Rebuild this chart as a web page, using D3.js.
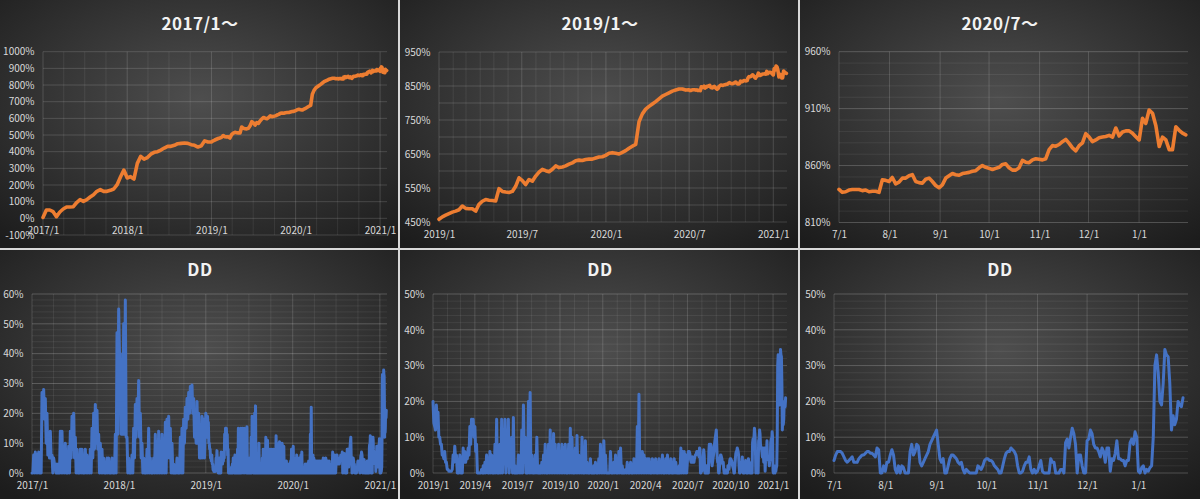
<!DOCTYPE html>
<html><head><meta charset="utf-8">
<script src="https://cdn.jsdelivr.net/npm/d3@7"></script>
<style>
html,body{margin:0;padding:0;background:#1a1a1a;}
svg{display:block;}
text{font-family:"Noto Sans CJK JP","Noto Sans",sans-serif;}
</style></head><body>
<svg id="c" width="1200" height="499"></svg>
<script>
// ---------------- DATA ----------------
const endDate = "2021-01-31";
const titles = ["2017/1～", "2019/1～", "2020/7～", "DD", "DD", "DD"];

// equity (%), segments: start date, step in days, values
const eqStart2017 = "2017-01-01", eqStep2017 = 14.6;
const equity2017 = [5,50,50,40,10,38,56,68,68,70,95,112,102,112,128,142,162,172,162,162,168,176,202,248,290,242,250,236,330,372,355,365,385,396,400,410,422,432,432,438,448,450,452,450,442,438,428,435,465,458];
const eqStart2019 = "2019-01-01", eqStep2019 = 7.29;
const equity2019 = [458,465,470,474.5,479,482,486,497,490,489,489,482,502,511,516,514,513,512,548,540,538,537,540,555,580,572,560,575,570,585,597,605,601,598,605,615,610,612,615,620,624,630,632,631,634,635,635,638,641,642,646,652,654,652,650,655,660,667,673,678,745,768,782,790,797,804,812,820,825,830,835,838,841,841,838];
const eqStart2020 = "2020-07-01", eqStep2020 = 2.045;
const equity2020 = [839,836.5,837,838.5,839,839,839,838,838.5,837,
837.5,837.5,836.5,847.5,847,846,849.5,844,845.5,849,
849,851,852,846,845,844.5,848,849,846,842.5,
840.5,843,849,851,853,852,851.5,853,853.5,854,
855,855.5,858,860,858.5,857.5,856.5,857.5,858.5,861,
861.5,858,856,856,858,864.5,863,862.5,865,866,
865.5,865,866,874,877.5,877,878.5,881,883,879.5,
875.5,873,877.5,880,888,885,881,882.5,884.5,885,
885.5,886.5,885,893,886,889.5,890.5,890.5,888.4,885.4,
882.5,901.5,897,908.8,906,895,876.7,885,882.5,874,
874,894,891,888.5,887];

// drawdown (%): sampled peaks and the troughs read between them
const ddStart2017 = "2017-01-01", ddStep2017 = 7;
const dd2017 = [0,6,7,6,7,0,27,28,25,20,
12,14,6,5,3,3,3,14,14,8,
10,0,9,14,19,20,12,8,0,8,
8,0,8,6,5,8,15,20,23,21,
13,10,8,5,0,5,5,0,5,0,
13,47,55,40,13,50,58,12,5,0,
6,15,23,25,31,20,10,5,0,8,
15,5,0,5,13,10,14,5,13,10,
17,18,19,15,10,3,0,5,0,12,
15,18,22,25,27,29,29.5,25,15,24,
20,12,19,18,15];
const dd2017Low = [0,0,0,0,0,0,20,18,10,6,
5,5,0,3,0,0,0,0,0,0,
0,0,0,5,8,5,0,0,0,0,
0,0,0,0,0,0,5,8,10,8,
0,0,0,0,0,0,0,0,0,0,
0,13,40,13,13,13,12,0,0,0,
0,5,12,15,12,5,0,0,0,0,
0,0,0,0,0,0,0,0,0,0,
0,5,5,0,0,0,0,0,0,0,
0,10,15,18,20,22,20,12,10,10,
5,5,5,5,5];
const ddStart2019 = "2019-01-01", ddStep2019 = 3.6;
const dd2019 = [20,13,19,17,10,8,5,6,3,1,
0.5,0.5,5,7.5,5,0,5,0,7,6,
5,7,13,15,15,13,8,0,0,1,
2,3,5,0,6,5,2,8,15,0,
8,15,10,15,8,15,5,10,15.5,2,
0,5,3,12,19,10,0,20,22.5,5,
0,5,10,0,2,3,5,8,0,8,
12,5,11,8,3,8,5,8,7,8,
0,8,12.5,10,0,7,10.5,5,3,10,
0,9,3,2,4,0,2,3,0,4,
8,3,9,5,0,0,6,2,3,5,
0,6,7,2,0,1,3,2,3,0,
4,3,13,22,3,6,5,4,4,4,
0,4,3.5,4,0,4,3,5,0,4,
5,0,4,2,4,3,0,2,7,6,
6,5,6];
const dd2019Low = [14,12,15,10,8,5,4,3,1,0.5,
0.5,1,3,4,0,0,0,0,3,3,
4,5,8,12,10,6,0,0,0,0,
0,0,2,0,0,0,0,0,0,0,
0,0,3,0,2,0,3,0,0,0,
0,0,0,0,5,0,0,0,0,0,
0,0,0,0,0,0,0,0,0,0,
0,0,0,0,0,0,0,0,0,0,
0,0,0,0,0,0,0,0,0,0,
0,0,0,0,0,0,0,0,0,0,
0,0,0,0,0,0,0,0,0,0,
0,0,0,0,0,0,0,0,0,0,
0,0,0,0,0,0,0,0,0,0,
0,0,0,0,0,0,0,0,0,0,
0,0,0,0,0,0,0,0,0,0,
0,0,0];
const ddStart2020 = "2020-07-01", ddStep2020 = 1;
const dd2020 = [3.5,5,6,6,6,5.5,4.5,3.5,3,3.5,
4,4.5,3,3,3,4,4.5,5,5,5.5,
6,6,5.5,5.5,5,4.5,7,6.5,0,0,
2,0.5,3,3,5,6.5,5,1,0,2,
0,2,1.5,0,0,0,6,8,5,6,
8,7.5,3,2,3,4,5,6,8,9,
10,11,12,8,4,3,4,0,0,2,
4,5,5,4.5,4,3,2.5,3,1,0,
1,0.5,0,0,0,0,0,2,1.5,1,
2,3.5,4,4,3.5,3.5,3,2,1.5,1,
0,0,2,4,5.5,6,6,7,6.5,6,
5,2,0,0,0.5,2,3,3,4.5,1,
0,1,0,0.5,2,3.5,0.5,0,0,0,
0,4,3,3,0,0,0,1,1,0,
8.5,9.5,7,10,12.5,11,8,0,5,5,
2,0,0,9,9.5,12,11,8,7,7,
6,4.5,7,6,3,7,7,0.5,4,3.5,
5.5,9,4,4,3.5,3.5,2,3.5,3.5,8.5,
9.5,8,11.5,10,0.5,0,1.5,2,0,1,
0.5,1.5,2,10,30,33,28,20,19,25,
34.5,33,32.5,25,12,16,13.5,15,20,19,
18.5,21];

// ---------------- BUILD ----------------
const parse = d3.timeParse("%Y-%m-%d");
function expand(start, step, vals, lows) {
  const t0 = parse(start);
  const out = [];
  vals.forEach((v, i) => {
    out.push({ d: d3.timeHour.offset(t0, Math.round(i * step * 24)), v });
    if (lows) out.push({ d: d3.timeHour.offset(t0, Math.round((i + 0.5) * step * 24)), v: lows[i] });
  });
  return out;
}
const cut2019 = parse("2019-01-01"), cut2020 = parse("2020-07-01");
const equity = [].concat(
  expand(eqStart2017, eqStep2017, equity2017).filter(p => p.d < cut2019),
  expand(eqStart2019, eqStep2019, equity2019).filter(p => p.d < cut2020),
  expand(eqStart2020, eqStep2020, equity2020));
const dd = [].concat(
  expand(ddStart2017, ddStep2017, dd2017, dd2017Low).filter(p => p.d < cut2019),
  expand(ddStart2019, ddStep2019, dd2019, dd2019Low).filter(p => p.d < cut2020),
  expand(ddStart2020, ddStep2020, dd2020));

const svg = d3.select("#c");
const defs = svg.append("defs");
const rg = defs.append("radialGradient").attr("id", "bg").attr("cx", "50%").attr("cy", "40%").attr("r", "75%");
rg.append("stop").attr("offset", "0%").attr("stop-color", "#4e4e4e");
rg.append("stop").attr("offset", "100%").attr("stop-color", "#1c1c1c");

const ymFmt = d => d.getFullYear() + "/" + (d.getMonth() + 1);
const mdFmt = d => (d.getMonth() + 1) + "/1";
const end = parse(endDate);

const panels = [
  { px: 0, py: 0, title: titles[0], series: equity, color: "#ED7D31", sw: 3.6, start: "2017-01-01",
    xr: [43, 387], yd: [-100, 1000], yr: [235, 51.7], axisAt: 0,
    yMinor: null, yMajor: d3.range(-100, 1001, 100), yLabels: d3.range(-100, 1001, 100),
    xGrid: d3.timeMonth.every(3), xMajor: d3.timeYear, xLabels: d3.timeYear, fmt: ymFmt, ty: 30 },
  { px: 400, py: 0, title: titles[1], series: equity, color: "#ED7D31", sw: 3.6, start: "2019-01-01",
    xr: [439, 787], yd: [450, 950], yr: [222, 52], axisAt: 450,
    yMinor: null, yMajor: d3.range(450, 951, 50), yLabels: d3.range(450, 951, 100),
    xGrid: d3.timeMonth, xMajor: d3.timeMonth.every(6), xLabels: d3.timeMonth.every(6), fmt: ymFmt, ty: 30 },
  { px: 800, py: 0, title: titles[2], series: equity, color: "#ED7D31", sw: 3.6, start: "2020-07-01",
    xr: [839, 1188], yd: [810, 960], yr: [222.5, 51.7], axisAt: 810,
    yMinor: d3.range(810, 961, 10), yMajor: d3.range(810, 961, 50), yLabels: d3.range(810, 961, 50),
    xGrid: d3.timeMonth, xMajor: d3.timeMonth, xLabels: d3.timeMonth, fmt: mdFmt, ty: 30 },
  { px: 0, py: 250, title: titles[3], series: dd, color: "#4472C4", sw: 3, start: "2017-01-01",
    xr: [32, 387], yd: [0, 60], yr: [473, 294], axisAt: 0,
    yMinor: d3.range(0, 61, 2), yMajor: d3.range(0, 61, 10), yLabels: d3.range(0, 61, 10),
    xGrid: d3.timeMonth.every(3), xMajor: d3.timeYear, xLabels: d3.timeYear, fmt: ymFmt, ty: 276 },
  { px: 400, py: 250, title: titles[4], series: dd, color: "#4472C4", sw: 3, start: "2019-01-01",
    xr: [433, 787], yd: [0, 50], yr: [473, 294], axisAt: 0,
    yMinor: d3.range(0, 51, 2), yMajor: d3.range(0, 51, 10), yLabels: d3.range(0, 51, 10),
    xGrid: d3.timeMonth, xMajor: d3.timeMonth.every(3), xLabels: d3.timeMonth.every(3), fmt: ymFmt, ty: 276 },
  { px: 800, py: 250, title: titles[5], series: dd, color: "#4472C4", sw: 3, start: "2020-07-01",
    xr: [834, 1188], yd: [0, 50], yr: [473, 294], axisAt: 0,
    yMinor: d3.range(0, 51, 2), yMajor: d3.range(0, 51, 10), yLabels: d3.range(0, 51, 10),
    xGrid: d3.timeMonth, xMajor: d3.timeMonth, xLabels: d3.timeMonth, fmt: mdFmt, ty: 276 }
];

panels.forEach(p => {
  const g = svg.append("g");
  g.append("rect").attr("x", p.px).attr("y", p.py).attr("width", 400).attr("height", 249).attr("fill", "url(#bg)");
  const s = parse(p.start);
  const x = d3.scaleTime().domain([s, end]).range(p.xr);
  const y = d3.scaleLinear().domain(p.yd).range(p.yr);
  const [y0, y1] = [p.yr[0], p.yr[1]];

  if (p.yMinor) g.append("g").selectAll("line").data(p.yMinor).join("line")
    .attr("x1", p.xr[0]).attr("x2", p.xr[1]).attr("y1", d => y(d)).attr("y2", d => y(d))
    .attr("stroke", "rgba(255,255,255,0.07)").attr("stroke-width", 1);
  g.append("g").selectAll("line").data(p.yMajor).join("line")
    .attr("x1", p.xr[0]).attr("x2", p.xr[1]).attr("y1", d => y(d)).attr("y2", d => y(d))
    .attr("stroke", "rgba(255,255,255,0.15)").attr("stroke-width", 1);
  const gridDates = p.xGrid.range(s, d3.timeDay.offset(end, 1));
  const majorSet = new Set(p.xMajor.range(s, d3.timeDay.offset(end, 1)).map(d => +d));
  g.append("g").selectAll("line").data(gridDates).join("line")
    .attr("x1", d => x(d)).attr("x2", d => x(d)).attr("y1", y0).attr("y2", y1)
    .attr("stroke", d => majorSet.has(+d) ? "rgba(255,255,255,0.15)" : "rgba(255,255,255,0.08)")
    .attr("stroke-width", 1);

  const ya = g.append("g").attr("transform", `translate(${p.xr[0]},0)`)
    .call(d3.axisLeft(y).tickValues(p.yLabels).tickSize(0).tickPadding(8.5).tickFormat(v => v + "%"));
  ya.select(".domain").remove();
  ya.selectAll("text").attr("fill", "#d9d9d9").attr("font-size", "10px");

  const xa = g.append("g").attr("transform", `translate(0,${y(p.axisAt)})`)
    .call(d3.axisBottom(x).tickValues(p.xLabels.range(s, d3.timeDay.offset(end, 1))).tickSize(0).tickPadding(8.5).tickFormat(p.fmt));
  xa.select(".domain").remove();
  xa.selectAll("text").attr("fill", "#d9d9d9").attr("font-size", "10px");

  const data = p.series.filter(d => d.d >= s && d.d <= end);
  g.append("path").datum(data)
    .attr("d", d3.line().x(d => x(d.d)).y(d => y(d.v)))
    .attr("fill", "none").attr("stroke", p.color).attr("stroke-width", p.sw)
    .attr("stroke-linejoin", "round").attr("stroke-linecap", "round");

  g.append("text").attr("x", p.px + 200).attr("y", p.ty).attr("text-anchor", "middle")
    .attr("fill", "#f2f2f2").attr("font-size", "17px").attr("font-weight", "bold").attr("letter-spacing", "0.5px")
    .text(p.title);
});

const sep = svg.append("g").attr("stroke", "#d8d8d8").attr("stroke-width", 2);
sep.append("line").attr("x1", 0).attr("x2", 1200).attr("y1", 249).attr("y2", 249);
sep.append("line").attr("x1", 399).attr("x2", 399).attr("y1", 0).attr("y2", 499);
sep.append("line").attr("x1", 799).attr("x2", 799).attr("y1", 0).attr("y2", 499);
</script>
</body></html>
